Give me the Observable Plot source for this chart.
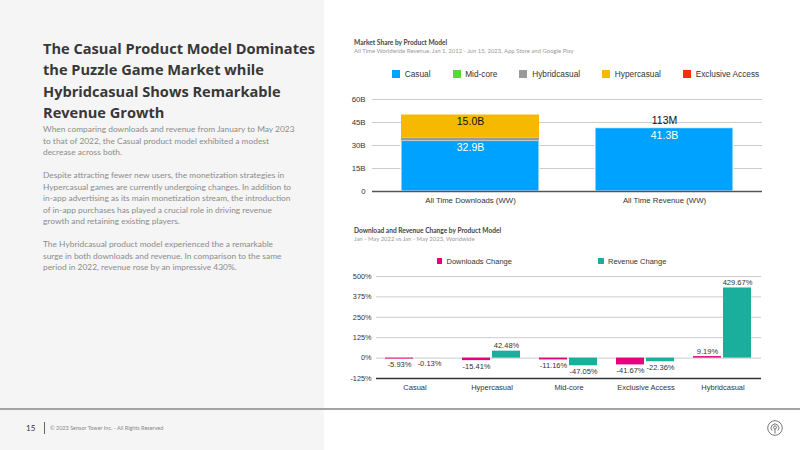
<!DOCTYPE html>
<html>
<head>
<meta charset="utf-8">
<script src="https://cdn.jsdelivr.net/npm/d3@7"></script>
<script src="https://cdn.jsdelivr.net/npm/@observablehq/plot@0.6"></script>
<style>
  body { margin: 0; width: 800px; height: 450px; position: relative; overflow: hidden; background: #fff; font-family: Lato, "Noto Sans", sans-serif; }
  #panel { position: absolute; left: 0; top: 0; width: 324px; height: 450px; background: #f5f5f5; }
  #headline { position: absolute; left: 43px; top: 38px; width: 285px; font-family: "Open Sans", "Noto Sans", sans-serif; font-weight: 700; font-size: 14.6px; line-height: 21.3px; color: #383838; }
  #body { position: absolute; left: 43px; top: 124px; width: 285px; font-size: 8.4px; line-height: 11.5px; color: #8c8c8c; }
  #body p { margin: 0 0 11.5px 0; }
  .ctitle { position: absolute; left: 354px; font-weight: 700; font-size: 6.6px; line-height: 1; color: #444; white-space: nowrap; }
  .csub { position: absolute; left: 354px; font-size: 5.95px; line-height: 1; color: #9a9a9a; white-space: nowrap; }
  .legend { position: absolute; display: flex; align-items: center; height: 10px; font-family: "Liberation Sans", Arial, sans-serif; color: #333; white-space: nowrap; }
  .legend .item { display: flex; align-items: center; }
  .legend .sw { display: inline-block; }
  #legend1 { left: 392px; top: 69px; gap: 22px; font-size: 8.3px; }
  #legend1 .sw { width: 8px; height: 8px; margin-right: 4.7px; }
  #legend2 { left: 436.5px; top: 256px; font-size: 7.5px; }
  #legend2 .item { width: 161.5px; }
  #legend2 .sw { width: 5.5px; height: 5.5px; margin-right: 4.5px; }
  #chart1 { position: absolute; left: 330px; top: 88px; }
  #chart2 { position: absolute; left: 330px; top: 268px; }
  #rule { position: absolute; left: 0; top: 408px; width: 800px; height: 1.5px; background: #a3a3a3; }
  #page { position: absolute; left: 26px; top: 423.5px; font-size: 8px; line-height: 1; color: #333; }
  #bar { position: absolute; left: 43.5px; top: 422px; width: 1px; height: 12px; background: #666; }
  #copy { position: absolute; left: 50px; top: 425.5px; font-size: 5.5px; line-height: 1; color: #888; white-space: nowrap; }
  #logo { position: absolute; left: 767px; top: 420px; }
</style>
</head>
<body>
<div id="panel"></div>
<div id="headline">The Casual Product Model Dominates<br>the Puzzle Game Market while<br>Hybridcasual Shows Remarkable<br>Revenue Growth</div>
<div id="body">
  <p>When comparing downloads and revenue from January to May 2023<br>to that of 2022, the Casual product model exhibited a modest<br>decrease across both.</p>
  <p>Despite attracting fewer new users, the monetization strategies in<br>Hypercasual games are currently undergoing changes. In addition to<br>in-app advertising as its main monetization stream, the introduction<br>of in-app purchases has played a crucial role in driving revenue<br>growth and retaining existing players.</p>
  <p>The Hybridcasual product model experienced the a remarkable<br>surge in both downloads and revenue. In comparison to the same<br>period in 2022, revenue rose by an impressive 430%.</p>
</div>

<div class="ctitle" style="top:38.5px">Market Share by Product Model</div>
<div class="csub" style="top:48.4px">All Time Worldwide Revenue, Jan 1, 2012 - Jun 15, 2023, App Store and Google Play</div>
<div class="legend" id="legend1"></div>
<div id="chart1"></div>

<div class="ctitle" style="top:226.9px">Download and Revenue Change by Product Model</div>
<div class="csub" style="top:236.4px">Jan - May 2022 vs Jan - May 2023, Worldwide</div>
<div class="legend" id="legend2"></div>
<div id="chart2"></div>

<div id="rule"></div>
<div id="page">15</div>
<div id="bar"></div>
<div id="copy">© 2023 Sensor Tower Inc. - All Rights Reserved</div>
<svg id="logo" width="16" height="16" viewBox="0 0 16 16" fill="none" stroke="#777" stroke-width="1">
  <circle cx="8" cy="8" r="7.3"/>
  <path d="M5.2 10.6 A3.9 3.9 0 1 1 10.8 10.6"/>
  <circle cx="8" cy="7.4" r="1.5"/>
  <path d="M8 8.9 V13.5"/>
</svg>

<script>
// Market share: all-time totals by product model (billions)
const models = ["Casual", "Mid-core", "Hybridcasual", "Hypercasual", "Exclusive Access"];
const modelColors = ["#00a2ff", "#5cd43c", "#999999", "#f7b900", "#ff2b0a"];
const metrics = ["All Time Downloads (WW)", "All Time Revenue (WW)"];
const downloadsB = [32.9, 0, 2.0, 15.0, 0];
const revenueB = [41.3, 0, 0, 0.113, 0];
const shareTicks = [0, 15, 30, 45, 60];
const labeledModels = ["Casual", "Hypercasual"];

// Year-over-year change (Jan - May 2022 vs Jan - May 2023), percent
const productModels = ["Casual", "Hypercasual", "Mid-core", "Exclusive Access", "Hybridcasual"];
const series = ["Downloads Change", "Revenue Change"];
const seriesColors = ["#e6007e", "#1aae9c"];
const downloadsChange = [-5.93, -15.41, -11.16, -41.67, 9.19];
const revenueChange = [-0.13, 42.48, -47.05, -22.36, 429.67];
const changeTicks = [-125, 0, 125, 250, 375, 500];

const share = [];
models.forEach((m, i) => {
  share.push({metric: metrics[0], model: m, value: downloadsB[i]});
  share.push({metric: metrics[1], model: m, value: revenueB[i]});
});
const change = productModels.flatMap((m, i) => [
  {model: m, series: series[0], value: downloadsChange[i]},
  {model: m, series: series[1], value: revenueChange[i]}
]);

const fmtShare = v => v >= 1 ? v.toFixed(1) + "B" : Math.round(v * 1000) + "M";
const isLabeled = d => labeledModels.includes(d.model) && d.value > 0;

function legend(el, names, colors) {
  const root = document.getElementById(el);
  names.forEach((n, i) => {
    const item = document.createElement("div");
    item.className = "item";
    const sw = document.createElement("span");
    sw.className = "sw";
    sw.style.background = colors[i];
    item.appendChild(sw);
    item.appendChild(document.createTextNode(n));
    root.appendChild(item);
  });
}
legend("legend1", models, modelColors);
legend("legend2", series, seriesColors);

const axisFont = "'Liberation Sans', Arial, sans-serif";

const shareChart = Plot.plot({
  width: 440,
  height: 122,
  marginTop: 11,
  marginBottom: 19,
  marginLeft: 42,
  marginRight: 8,
  style: {fontFamily: axisFont, fontSize: "7.8px", color: "#333", background: "transparent"},
  x: {domain: metrics, paddingInner: 0.287, paddingOuter: 0.144, label: null},
  y: {domain: [0, 60], label: null},
  color: {domain: models, range: modelColors},
  marks: [
    Plot.gridY(shareTicks, {stroke: "#cccccc", strokeOpacity: 1}),
    Plot.axisY(shareTicks, {tickSize: 0, tickPadding: 7, tickFormat: d => d === 0 ? "0" : d + "B", label: null}),
    Plot.axisX({tickSize: 0, tickPadding: 6, label: null}),
    Plot.barY(share, {
      x: "metric", y: "value", fill: "model",
      stroke: "white", strokeWidth: 1,
      strokeOpacity: d => d.model === "Casual" ? 1 : 0
    }),
    Plot.ruleY([0], {stroke: "#555", strokeWidth: 1.5}),
    Plot.text(share, Plot.stackY2({
      x: "metric", y: "value",
      text: d => isLabeled(d) && d.value >= 1 ? fmtShare(d.value) : null,
      fill: d => d.model === "Casual" ? "white" : "#111",
      dy: 7, fontSize: 10.5
    })),
    Plot.text(share, Plot.stackY2({
      x: "metric", y: "value",
      text: d => isLabeled(d) && d.value < 1 ? fmtShare(d.value) : null,
      fill: "#111",
      dy: -7, fontSize: 10.5
    }))
  ]
});
document.getElementById("chart1").appendChild(shareChart);

const changeChart = Plot.plot({
  width: 440,
  height: 130,
  marginTop: 8,
  marginBottom: 20,
  marginLeft: 44,
  marginRight: 7,
  style: {fontFamily: axisFont, fontSize: "7.3px", color: "#333", background: "transparent"},
  fx: {domain: productModels, padding: 0, label: null},
  x: {domain: series, paddingInner: 0.065, paddingOuter: 0.29, axis: null},
  y: {domain: [-125, 500], label: null},
  color: {domain: series, range: seriesColors},
  marks: [
    Plot.gridY(changeTicks, {stroke: "#cccccc", strokeOpacity: 1}),
    Plot.axisY(changeTicks, {tickSize: 0, tickPadding: 5, tickFormat: d => d + "%", label: null}),
    Plot.axisFx({anchor: "bottom", tickSize: 0, tickPadding: 6, label: null, fontSize: 7.5}),
    Plot.barY(change, {fx: "model", x: "series", y: "value", fill: "series"}),
    Plot.ruleY([-125], {stroke: "#333", strokeWidth: 1.5}),
    Plot.text(change, {
      filter: d => d.value >= 0,
      fx: "model", x: "series", y: "value",
      text: d => d.value.toFixed(2) + "%",
      lineAnchor: "bottom", dy: -3, fontSize: 7.5, fill: "#333"
    }),
    Plot.text(change, {
      filter: d => d.value < 0,
      fx: "model", x: "series", y: "value",
      text: d => d.value.toFixed(2) + "%",
      lineAnchor: "top", dy: 3, fontSize: 7.5, fill: "#333"
    })
  ]
});
document.getElementById("chart2").appendChild(changeChart);
</script>
</body>
</html>
